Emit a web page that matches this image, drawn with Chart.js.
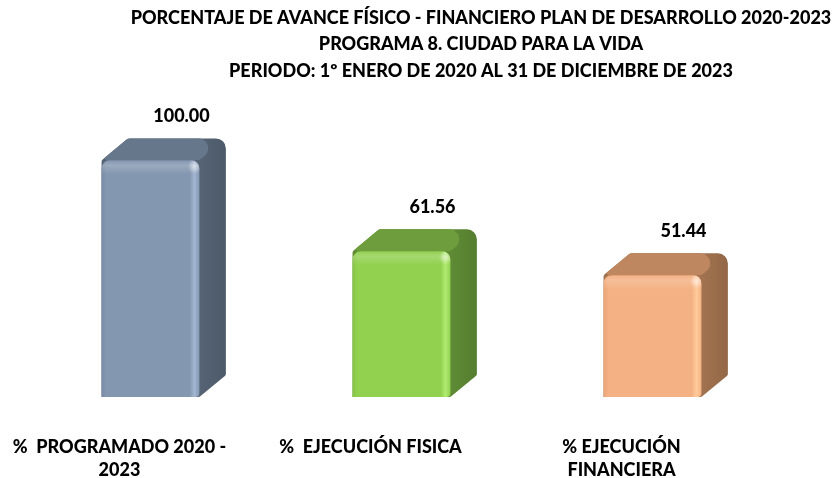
<!DOCTYPE html>
<html>
<head>
<meta charset="utf-8">
<script src="https://cdn.jsdelivr.net/npm/chart.js@4/dist/chart.umd.min.js"></script>
<style>
  html, body { margin: 0; padding: 0; background: #ffffff; }
  #wrap { width: 834px; height: 478px; position: relative; }
</style>
</head>
<body>
<div id="wrap"><canvas id="c"></canvas></div>
<script>
// ---- data ----
const titleLines = [
  'PORCENTAJE DE AVANCE FÍSICO - FINANCIERO PLAN DE DESARROLLO 2020-2023',
  'PROGRAMA 8. CIUDAD PARA LA VIDA',
  'PERIODO: 1º ENERO DE 2020 AL 31 DE DICIEMBRE DE 2023'
];
const categories = [
  ['%  PROGRAMADO 2020 -', '2023'],
  ['%  EJECUCIÓN FISICA'],
  ['% EJECUCIÓN', 'FINANCIERA']
];
const values = [100.00, 61.56, 51.44];

// ---- styles ----
const FONT = 'Lato, "Open Sans", "DejaVu Sans", sans-serif';
const barStyles = [
  { front: '#8497b0', frontDark: '#7a8ca5', light: '#a3b6d2', side: '#556374', sideDark: '#4d5a6a', top: '#66778c' },
  { front: '#92d050', frontDark: '#86c446', light: '#b0ec70', side: '#5f8b35', sideDark: '#557e2f', top: '#6d9d3d' },
  { front: '#f4b183', frontDark: '#eaa677', light: '#ffcb9c', side: '#a17350', sideDark: '#936747', top: '#bf8760' }
];

function roundPoly(ctx, pts) {
  const n = pts.length;
  ctx.beginPath();
  const last = pts[n - 1], first = pts[0];
  ctx.moveTo((last[0] + first[0]) / 2, (last[1] + first[1]) / 2);
  for (let i = 0; i < n; i++) {
    const p = pts[i], q = pts[(i + 1) % n];
    ctx.arcTo(p[0], p[1], q[0], q[1], p[2]);
  }
  ctx.closePath();
}

const bar3D = {
  id: 'bar3D',
  afterDatasetsDraw(chart) {
    const ctx = chart.ctx;
    const meta = chart.getDatasetMeta(0);
    meta.data.forEach((bar, i) => {
      const st = barStyles[i];
      const w = bar.width;
      const x0 = bar.x - w / 2, x1 = bar.x + w / 2;
      const yT = bar.y, yB = bar.base;
      const dx = w * 0.27, dy = dx * 0.83;
      const r = 8;
      ctx.save();
      // silhouette (side colour)
      roundPoly(ctx, [
        [x0, yB, 0], [x0, yT, 3], [x0 + dx, yT - dy, 6], [x1 + dx, yT - dy, 10],
        [x1 + dx, yB - dy, 2], [x1, yB, 3]
      ]);
      const sg = ctx.createLinearGradient(x1, 0, x1 + dx, 0);
      sg.addColorStop(0, st.side);
      sg.addColorStop(1, st.sideDark);
      ctx.fillStyle = sg;
      ctx.fill();
      // top face
      roundPoly(ctx, [
        [x0, yT, 2], [x0 + dx, yT - dy, 6], [x1 + dx, yT - dy, 10], [x1, yT, r]
      ]);
      ctx.fillStyle = st.top;
      ctx.fill();
      // front face
      roundPoly(ctx, [
        [x0, yB, 0], [x0, yT, r], [x1, yT, r], [x1, yB, 4]
      ]);
      const fg = ctx.createLinearGradient(x0, 0, x1, 0);
      fg.addColorStop(0, st.frontDark);
      fg.addColorStop(0.05, st.front);
      fg.addColorStop(0.9, st.front);
      fg.addColorStop(0.95, st.light);
      fg.addColorStop(1, st.front);
      ctx.fillStyle = fg;
      ctx.fill();
      // top bevel highlight
      ctx.save();
      ctx.clip();
      const tg = ctx.createLinearGradient(0, yT, 0, yT + 14);
      tg.addColorStop(0, 'rgba(255,255,255,0.0)');
      tg.addColorStop(0.35, 'rgba(255,255,255,0.18)');
      tg.addColorStop(1, 'rgba(255,255,255,0)');
      ctx.fillStyle = tg;
      ctx.fillRect(x0, yT, w, 14);
      const rg = ctx.createRadialGradient(x1 - 5, yT + 6, 0, x1 - 5, yT + 6, 7);
      rg.addColorStop(0, 'rgba(255,255,255,0.5)');
      rg.addColorStop(1, 'rgba(255,255,255,0)');
      ctx.fillStyle = rg;
      ctx.fillRect(x1 - 14, yT, 14, 14);
      ctx.restore();
      // value label
      ctx.fillStyle = '#000000';
      ctx.font = '900 18px ' + FONT;
      ctx.textAlign = 'center';
      ctx.textBaseline = 'middle';
      ctx.fillText(values[i].toFixed(2), bar.x + 31, yT - 44);
      ctx.restore();
    });
  }
};

const titlePlugin = {
  id: 'titleLines',
  afterDraw(chart) {
    const ctx = chart.ctx;
    ctx.save();
    ctx.fillStyle = '#000000';
    ctx.font = '900 18px ' + FONT;
    ctx.textAlign = 'center';
    ctx.textBaseline = 'middle';
    titleLines.forEach((t, i) => ctx.fillText(t, 481, 18 + i * 26.5));
    ctx.restore();
  }
};

new Chart(document.getElementById('c'), {
  type: 'bar',
  data: {
    labels: categories,
    datasets: [{
      data: values,
      backgroundColor: 'rgba(0,0,0,0)',
      borderWidth: 0,
      barPercentage: 0.39,
      categoryPercentage: 1.0
    }]
  },
  options: {
    responsive: true,
    maintainAspectRatio: false,
    animation: false,
    layout: { padding: { top: 113, left: 25, right: 56, bottom: 0 } },
    plugins: { legend: { display: false }, tooltip: { enabled: false }, title: { display: false } },
    scales: {
      y: { display: false, min: 0, max: 120 },
      x: {
        grid: { display: false, drawTicks: false },
        border: { display: false },
        ticks: {
          color: '#000000',
          font: { family: FONT, size: 18, weight: '900', lineHeight: 1.3 },
          padding: 38,
          labelOffset: -31,
          maxRotation: 0,
          autoSkip: false
        },
        afterFit(scale) { scale.height = 81; }
      }
    }
  },
  plugins: [bar3D, titlePlugin]
});
</script>
</body>
</html>
